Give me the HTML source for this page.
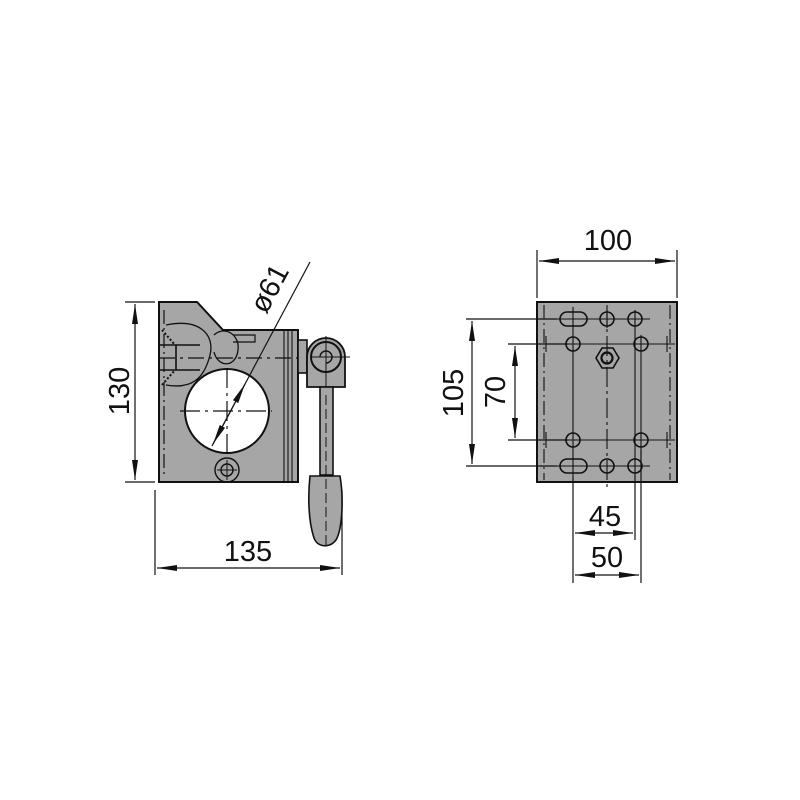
<!DOCTYPE html>
<html><head><meta charset="utf-8"><style>
html,body{margin:0;padding:0;background:#fff;}
svg{display:block}
text{font-family:"Liberation Sans",sans-serif;fill:#111;}
</style></head><body>
<svg width="800" height="800" viewBox="0 0 800 800" xmlns="http://www.w3.org/2000/svg">
<defs>
<marker id="a" viewBox="0 0 20 6" refX="20" refY="3" markerWidth="20" markerHeight="6" markerUnits="userSpaceOnUse" orient="auto-start-reverse"><path d="M0,0 L20,3 L0,6 z" fill="#111"/></marker>
</defs>
<g stroke="#111" stroke-width="1.6" fill="none">
<!-- LEFT VIEW -->
<path d="M159,302 L197,302 L223,330 L298,330 L298,482 L159,482 Z" fill="#a6a6a6" stroke-width="2"/>
<circle cx="227" cy="411" r="42" fill="#fff" stroke-width="2"/>
<path d="M164,310 V475" stroke-dasharray="14,4,2,4" stroke-width="1.2"/>
<path d="M284,330 V482 M288,330 V482 M292,330 V482" stroke-width="1.1"/>
<path d="M166,325 C200,318 215,335 210,355 C205,375 195,390 166,385" stroke-width="1.3"/>
<path d="M159,345 H200 M159,370 H200 M176,345 V370" stroke-width="1.6"/>
<path d="M162,330 L175,345 M162,385 L175,370" stroke-width="2" stroke-dasharray="2,2"/>
<path d="M214,335 C225,325 240,335 238,350 C236,368 218,368 214,352" stroke-width="1.3"/>
<path d="M233,335 H255 V342 H233" stroke-width="1.2"/>
<path d="M159,358 H345" stroke-dasharray="16,5,3,5" stroke-width="1.2"/>
<path d="M180,411 H272 M227,368 V455" stroke-dasharray="20,5,3,5" stroke-width="1.2"/>
<circle cx="227" cy="470" r="12" stroke-width="1.4"/>
<circle cx="227" cy="470" r="6" stroke-width="1.4"/>
<path d="M217,470 H237 M227,460 V480" stroke-width="1"/>
<!-- lever -->
<rect x="298" y="340" width="9" height="33" fill="#a6a6a6" stroke-width="1.6"/>
<path d="M307,387 V357 A19,19 0 0 1 345,357 V387 Z" fill="#a6a6a6" stroke-width="1.8"/>
<circle cx="326" cy="357" r="15" stroke-width="2"/>
<path d="M320,357 A6,6 0 1 1 326,363" stroke-width="1.4"/>
<path d="M326,336 V395 M310,357 H350" stroke-width="1"/>
<rect x="320" y="387" width="13" height="88" fill="#a6a6a6" stroke-width="1.6"/>
<path d="M310,476 H340 C344,500 342,530 336,540 C330,548 318,548 314,538 C308,520 308,495 310,476 Z" fill="#a6a6a6" stroke-width="1.6"/>
<path d="M326,395 V545" stroke-dasharray="10,4" stroke-width="1"/>
<!-- dims left -->
<path d="M125,302 H155 M125,482 H155" stroke-width="1.2"/>
<path d="M135,304 V480" stroke-width="1.2" marker-start="url(#a)" marker-end="url(#a)"/>
<path d="M155,490 V575 M342,490 V575" stroke-width="1.2"/>
<path d="M157,568 H340" stroke-width="1.2" marker-start="url(#a)" marker-end="url(#a)"/>
<path d="M310,262 L212,446" stroke-width="1.2"/>
<path d="M245,384 L213,444" stroke-width="1.2" marker-start="url(#a)" marker-end="url(#a)"/>
<!-- RIGHT VIEW -->
<rect x="537" y="302" width="140" height="180" fill="#a6a6a6" stroke-width="2"/>
<path d="M544,305 V480 M670,305 V480" stroke-dasharray="14,4,2,4" stroke-width="1.1"/>
<path d="M607,305 V490" stroke-dasharray="20,4,3,4" stroke-width="1.1"/>
<path d="M540,344 H560 M540,440 H560 M655,344 H675 M655,440 H675 M546,336 V352 M546,432 V448 M667,336 V352 M667,432 V448" stroke-width="1.1"/>
<rect x="560" y="312" width="27" height="14" rx="7" stroke-width="1.6"/>
<rect x="560" y="459" width="27" height="14" rx="7" stroke-width="1.6"/>
<circle cx="607" cy="319" r="7"/><circle cx="635" cy="319" r="7"/>
<circle cx="607" cy="466" r="7"/><circle cx="635" cy="466" r="7"/>
<circle cx="573" cy="344" r="7"/><circle cx="641" cy="344" r="7"/>
<circle cx="573" cy="440" r="7"/><circle cx="641" cy="440" r="7"/>
<path d="M555,319 H650 M555,466 H650 M560,344 H655 M560,440 H655 M573,307 V478 M635,310 V475 M641,335 V450 M607,310 V328" stroke-width="1.1"/>
<path d="M596,358 L602,348 L613,348 L619,358 L613,368 L602,368 Z" stroke-width="1.6"/>
<circle cx="607" cy="358" r="5.5" stroke-width="2.2"/>
<!-- dims right -->
<path d="M537,250 V298 M677,250 V298" stroke-width="1.2"/>
<path d="M539,261 H675" stroke-width="1.2" marker-start="url(#a)" marker-end="url(#a)"/>
<path d="M466,319 H557 M466,466 H557 M508,344 H568 M508,440 H568" stroke-width="1.2"/>
<path d="M472,321 V464" stroke-width="1.2" marker-start="url(#a)" marker-end="url(#a)"/>
<path d="M515,346 V438" stroke-width="1.2" marker-start="url(#a)" marker-end="url(#a)"/>
<path d="M573,478 V583 M635,475 V540 M641,450 V583" stroke-width="1.2"/>
<path d="M575,533 H633" stroke-width="1.2" marker-start="url(#a)" marker-end="url(#a)"/>
<path d="M575,575 H639" stroke-width="1.2" marker-start="url(#a)" marker-end="url(#a)"/>
</g>
<g font-size="29">
<text x="0" y="0" transform="translate(129,391) rotate(-90)" text-anchor="middle">130</text>
<text x="248" y="561" text-anchor="middle">135</text>
<text x="0" y="0" transform="translate(278,293) rotate(-62)" text-anchor="middle">ø61</text>
<text x="608" y="250" text-anchor="middle">100</text>
<text x="0" y="0" transform="translate(463,393) rotate(-90)" text-anchor="middle">105</text>
<text x="0" y="0" transform="translate(505,392) rotate(-90)" text-anchor="middle">70</text>
<text x="605" y="526" text-anchor="middle">45</text>
<text x="607" y="567" text-anchor="middle">50</text>
</g>
</svg>
</body></html>
